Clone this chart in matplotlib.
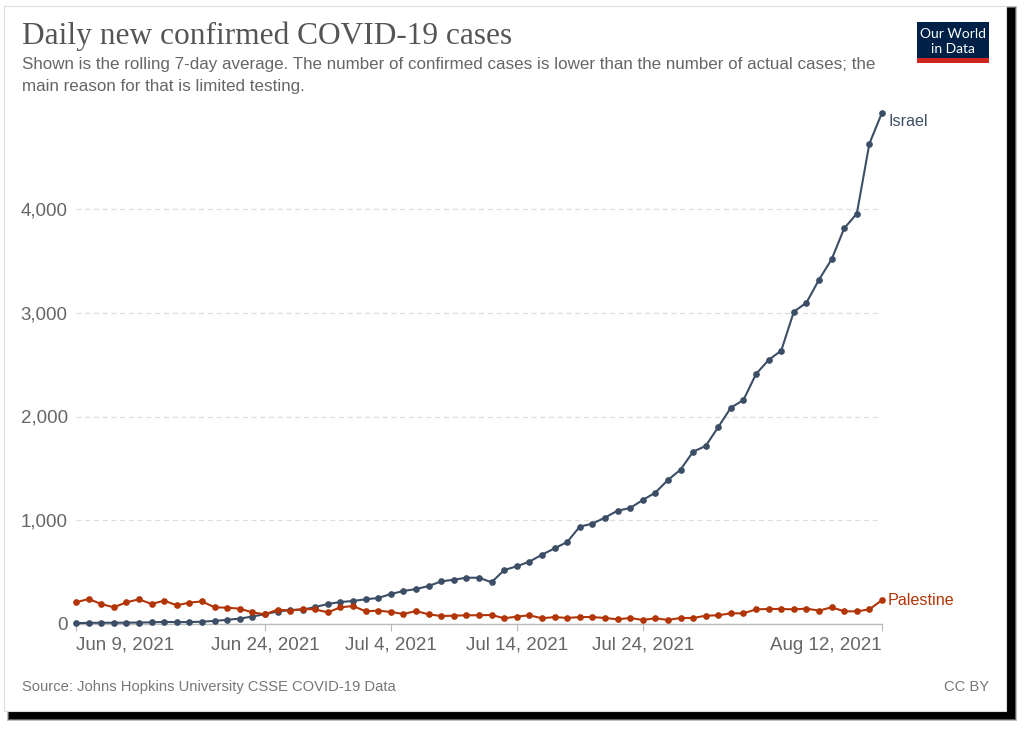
import numpy as np
import pandas as pd
import matplotlib
matplotlib.use("Agg")
import matplotlib.pyplot as plt
import matplotlib.dates as mdates
from matplotlib.patches import Rectangle
from matplotlib.ticker import FuncFormatter

# Data (7-day rolling average), Jun 9 - Aug 12 2021
dates = pd.date_range("2021-06-09", "2021-08-12", freq="D")

israel = [8, 11, 12, 12, 13, 14, 16, 20, 18, 19,
          22, 30, 40, 52, 72, 95, 120, 135, 138, 164,
          193, 212, 222, 238, 251, 289, 318, 337, 366, 411,
          427, 446, 446, 402, 520, 556, 601, 668, 729, 790,
          938, 967, 1025, 1092, 1118, 1195, 1266, 1388, 1487, 1661,
          1716, 1899, 2085, 2159, 2410, 2545, 2635, 3010, 3097, 3319,
          3515, 3814, 3955, 4630, 4928]

palestine = [209, 241, 193, 161, 209, 238, 193, 225, 180, 206,
             218, 161, 157, 148, 112, 93, 138, 129, 145, 141,
             112, 161, 173, 122, 129, 116, 96, 125, 93, 77,
             80, 84, 84, 87, 55, 71, 84, 55, 67, 58,
             67, 67, 58, 45, 58, 39, 55, 39, 58, 58,
             80, 84, 103, 103, 141, 145, 145, 141, 148, 129,
             161, 122, 122, 141, 231]

tick_dates = pd.to_datetime(["2021-06-09", "2021-06-24", "2021-07-04",
                             "2021-07-14", "2021-07-24", "2021-08-12"])
tick_labels = ["Jun 9, 2021", "Jun 24, 2021", "Jul 4, 2021",
               "Jul 14, 2021", "Jul 24, 2021", "Aug 12, 2021"]
y_ticks = [0, 1000, 2000, 3000, 4000]

ISRAEL_COLOR = "#3C4E66"
PALESTINE_COLOR = "#B13507"
TEXT_GREY = "#666666"

W, H = 1024, 729


def fx(px):
    return px / W


def fy(py):
    return 1 - py / H


fig = plt.figure(figsize=(W / 100, H / 100), dpi=100)
fig.patch.set_facecolor("white")

# card shadow + card (kept behind the axes)
for i, a in enumerate([0.25, 0.5, 1.0]):
    d = 2 - i
    fig.patches.append(Rectangle((fx(9 - d), fy(719 + d)), fx(1006 + 2 * d), (711 + 2 * d) / H,
                                 transform=fig.transFigure, facecolor="black",
                                 edgecolor="none", alpha=a, zorder=-3))
fig.patches.append(Rectangle((fx(4), fy(711)), fx(1002), 705 / H,
                             transform=fig.transFigure, facecolor="white",
                             edgecolor="#dddddd", lw=0.8, zorder=-2))

# plot area
ax = fig.add_axes([fx(76), fy(624), fx(806), 518.75 / H])
ax.set_facecolor("none")
ax.set_zorder(2)

ax.plot(dates, israel, color=ISRAEL_COLOR, lw=1.5, marker="o", ms=3.8,
        clip_on=False, zorder=3)
ax.plot(dates, palestine, color=PALESTINE_COLOR, lw=1.5, marker="o", ms=3.8,
        clip_on=False, zorder=3)

ax.set_xlim(dates[0], dates[-1])
ax.set_ylim(0, 5000)

ax.set_yticks(y_ticks)
ax.yaxis.set_major_formatter(FuncFormatter(lambda v, p: f"{int(v):,}"))
ax.set_xticks(tick_dates)
ax.set_xticklabels(tick_labels)
labels = ax.get_xticklabels()
labels[0].set_ha("left")
labels[-1].set_ha("right")

for s in ["top", "right", "left"]:
    ax.spines[s].set_visible(False)
ax.spines["bottom"].set_color("#bbbbbb")
ax.spines["bottom"].set_linewidth(1.0)

ax.tick_params(axis="x", length=5, color="#bbbbbb", labelcolor=TEXT_GREY,
               labelsize=13.5, pad=4)
ax.tick_params(axis="y", length=0, labelcolor=TEXT_GREY, labelsize=13.5, pad=6)
for t in ax.get_xticklabels() + ax.get_yticklabels():
    t.set_fontfamily("Liberation Sans")

ax.yaxis.grid(True, color="#dddddd", lw=0.9, linestyle=(0, (4, 3)))
ax.set_axisbelow(True)

# line labels
ax.annotate("Israel", xy=(dates[-1], israel[-1]), xytext=(6, -9),
            textcoords="offset pixels", color=ISRAEL_COLOR, fontsize=11.6,
            family="Liberation Sans", va="center", ha="left")
ax.annotate("Palestine", xy=(dates[-1], palestine[-1]), xytext=(6, 0),
            textcoords="offset pixels", color=PALESTINE_COLOR, fontsize=11.6,
            family="Liberation Sans", va="center", ha="left")

# titles
fig.text(fx(22), fy(36), "Daily new confirmed COVID-19 cases", family="Liberation Serif",
         fontsize=22.6, color="#555555", va="center", ha="left")
fig.text(fx(22), fy(65), "Shown is the rolling 7-day average. The number of confirmed cases is lower than the number of actual cases; the",
         family="Liberation Sans", fontsize=12.25, color=TEXT_GREY, va="center", ha="left")
fig.text(fx(22), fy(86), "main reason for that is limited testing.",
         family="Liberation Sans", fontsize=12.25, color=TEXT_GREY, va="center", ha="left")

# footer
fig.text(fx(22), fy(687), "Source: Johns Hopkins University CSSE COVID-19 Data",
         family="Liberation Sans", fontsize=10.6, color="#777777", va="center", ha="left")
fig.text(fx(989), fy(687), "CC BY", family="Liberation Sans", fontsize=10.6,
         color="#777777", va="center", ha="right")

# logo
fig.patches.append(Rectangle((fx(917), fy(63)), fx(72), 41 / H, transform=fig.transFigure,
                             facecolor="#002147", edgecolor="none", zorder=2))
fig.patches.append(Rectangle((fx(917), fy(63)), fx(72), 5 / H, transform=fig.transFigure,
                             facecolor="#CE261E", edgecolor="none", zorder=2))
fig.text(fx(953), fy(34), "Our World", family="Lato", fontsize=10, color="white",
         ha="center", va="center", zorder=3)
fig.text(fx(953), fy(49), "in Data", family="Lato", fontsize=10, color="white",
         ha="center", va="center", zorder=3)

fig.savefig("out.png", dpi=100, facecolor="white")
